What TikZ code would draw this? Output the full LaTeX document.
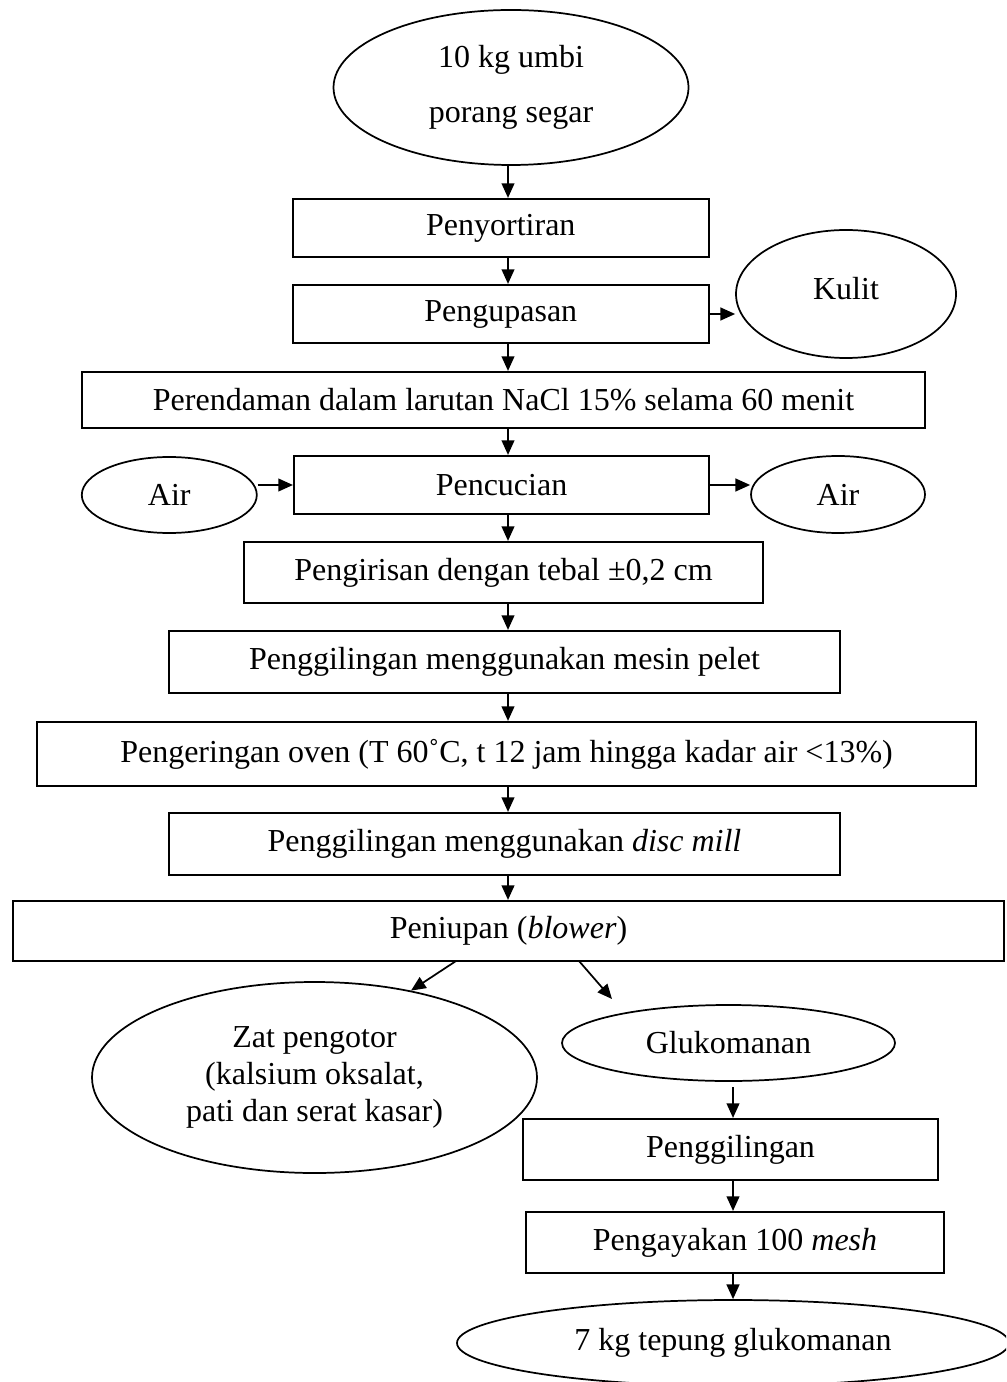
\documentclass[tikz,border=0pt]{standalone}
\usepackage{fontspec}
\setmainfont{Liberation Serif}
\usetikzlibrary{shapes.geometric,arrows.meta}

\begin{document}
\begin{tikzpicture}[x=0.375pt,y=-0.375pt,
   ukuran/.style 2 args={minimum width=#1*0.375pt,minimum height=#2*0.375pt},
   proses/.style={draw,line width=0.8pt,inner sep=0pt,font=\fontsize{12}{13.8}\selectfont},
   bahan/.style={draw,ellipse,line width=0.65pt,inner sep=0pt,align=center,font=\fontsize{12}{13.8}\selectfont},
   panah/.style={-{Triangle[length=5.5pt,width=4.8pt]},line width=0.65pt}]
   \clip (0,0) rectangle (1006,1382);
   \coordinate (sumbu) at (508,0);
   \coordinate (sumbu2) at (733,0);
   \node[bahan,ukuran={355}{155},font=\fontsize{12}{20.7}\selectfont] (umbi) at (511,87.5) {10 kg umbi\\porang segar};
   \node[proses,ukuran={416}{58}] (sortir) at (500.8,228) {Penyortiran};
   \node[proses,ukuran={416}{58}] (kupas) at (500.8,314) {Pengupasan};
   \node[bahan,ukuran={220}{128}] (kulit) at (846,294) {\raisebox{4pt}{Kulit}};
   \node[proses,ukuran={843}{56}] (rendam) at (503.5,400) {Perendaman dalam larutan NaCl 15\% selama 60 menit};
   \node[proses,ukuran={415}{58}] (cuci) at (501.5,485) {Pencucian};
   \node[bahan,ukuran={175}{76}] (airkiri) at (169.3,495) {Air};
   \node[bahan,ukuran={174}{77}] (airkanan) at (838,494.5) {Air};
   \node[proses,ukuran={519}{61}] (iris) at (503.5,572.5) {Pengirisan dengan tebal ±0,2 cm};
   \node[proses,ukuran={671}{62}] (pelet) at (504.5,662) {Penggilingan menggunakan mesin pelet};
   \node[proses,ukuran={939}{64}] (oven) at (506.5,754) {Pengeringan oven (T 60˚C, t 12 jam hingga kadar air <13\%)};
   \node[proses,ukuran={671}{62}] (disc) at (504.5,844) {Penggilingan menggunakan \textit{disc mill}};
   \node[proses,ukuran={991}{60}] (tiup) at (508.5,931) {Peniupan (\textit{blower})};
   \node[bahan,ukuran={445}{191}] (zat) at (314.5,1077.5) {Zat pengotor\\(kalsium oksalat,\\pati dan serat kasar)};
   \node[bahan,ukuran={333}{76}] (glu) at (728.5,1043) {Glukomanan};
   \node[proses,ukuran={415}{61}] (giling) at (730.5,1149.5) {Penggilingan};
   \node[proses,ukuran={418}{61}] (ayak) at (735,1242.5) {Pengayakan 100 \textit{mesh}};
   \node[bahan,ukuran={552}{86}] (tepung) at (733,1343) {7 kg tepung glukomanan};
   \coordinate (tiupkiri) at (456,961);
   \coordinate (tiupkanan) at (579,961);
   \coordinate (ujungglu) at (612,999);
   \draw[panah] (umbi.south -| sumbu) -- (sortir.north -| sumbu);
   \draw[panah] (sortir.south -| sumbu) -- (kupas.north -| sumbu);
   \draw[panah] (kupas.south -| sumbu) -- (rendam.north -| sumbu);
   \draw[panah] (rendam.south -| sumbu) -- (cuci.north -| sumbu);
   \draw[panah] (cuci.south -| sumbu) -- (iris.north -| sumbu);
   \draw[panah] (iris.south -| sumbu) -- (pelet.north -| sumbu);
   \draw[panah] (pelet.south -| sumbu) -- (oven.north -| sumbu);
   \draw[panah] (oven.south -| sumbu) -- (disc.north -| sumbu);
   \draw[panah] (disc.south -| sumbu) -- (tiup.north -| sumbu);
   \draw[panah] (kupas.east) -- (kupas.east -| kulit.west);
   \draw[panah] (cuci.west -| airkiri.east) -- (cuci.west);
   \draw[panah] (cuci.east) -- (cuci.east -| airkanan.west);
   \draw[panah] (tiupkiri) -- (zat.42);
   \draw[panah] (tiupkanan) -- (ujungglu);
   \draw[panah] ([yshift=-2pt]glu.south -| sumbu2) -- (giling.north -| sumbu2);
   \draw[panah] (giling.south -| sumbu2) -- (ayak.north -| sumbu2);
   \draw[panah] (ayak.south -| sumbu2) -- (tepung.north -| sumbu2);
\end{tikzpicture}
\end{document}
